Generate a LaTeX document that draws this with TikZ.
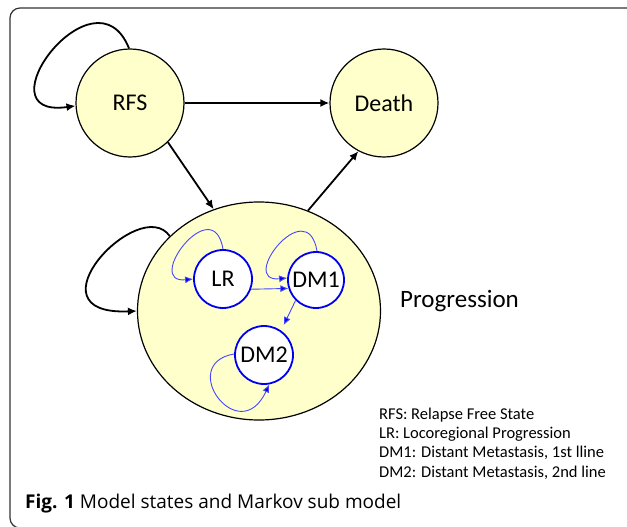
\documentclass[tikz,border=0pt]{standalone}
\usepackage{fontspec}
\setmainfont{Carlito}
\newfontfamily\capfont{Open Sans}
\usepackage{tikz}
\usetikzlibrary{shapes.geometric, arrows.meta}

\definecolor{statefill}{HTML}{FFFFCC}
\definecolor{subblue}{HTML}{0000F0}
\definecolor{loopblue}{HTML}{4646FF}
\definecolor{framegray}{HTML}{333333}

\tikzset{
	mstate/.style = {circle, draw, fill = statefill, line width = 1.2pt, inner sep = 0, minimum size = 108pt, font = \fontsize{24}{28}\selectfont},
	substate/.style = {circle, draw = subblue, fill = white, line width = 1.8pt, inner sep = 0, minimum size = 58pt, font = \fontsize{24}{28}\selectfont},
	move/.style = {line width = 1.8pt, -{Latex[length = 9pt, width = 8pt]}},
	submove/.style = {draw = loopblue, line width = 0.9pt, -{Latex[length = 8pt, width = 7pt, fill = subblue]}},
	keyline/.style = {anchor = base west, inner sep = 0, font = \fontsize{16.5}{19}\selectfont}
}

\begin{document}
\begin{tikzpicture}[x = 1pt, y = -1pt]
	\useasboundingbox (0, 0) rectangle (627, 527);
	\draw[framegray, line width = 1.2pt, rounded corners = 10pt] (10, 8) rectangle (660, 528);

	% main states
	\node[mstate] (rfs) at (130, 103) {RFS};
	\node[mstate] (death) at (384, 103) {Death};
	\node[mstate, ellipse, minimum width = 243pt, minimum height = 218pt] (prog) at (259, 311) {};
	\node[anchor = base west, inner sep = 0, font = \fontsize{25}{30}\selectfont] (progtext) at (400, 307) {Progression};

	\draw[move] (rfs.91) .. controls +(-34, -85) and +(-98, 14) .. (rfs.183);
	\draw[move] (rfs) -- (death);
	\draw[move] (rfs.-46) -- (prog.114);
	\draw[move] (prog.64) -- (death.-118);
	\draw[move] (prog.140) .. controls +(-30, -43) and +(-113, 5) .. (prog.180);

	% sub model
	\node[substate] (lr) at (223, 279) {LR};
	\node[substate, minimum size = 56pt] (dm1) at (316, 280) {DM1};
	\node[substate] (dm2) at (264, 355) {DM2};

	\draw[submove] (lr.90) .. controls +(-10, -59) and +(-50, 5) .. (lr.180);
	\draw[submove] (dm1.88) .. controls +(-10, -59) and +(-50, 5) .. (dm1.176);
	\draw[submove] (lr.-20) -- (dm1.-163);
	\draw[submove, shorten > = 6pt] (dm1.-135) -- (dm2.55);
	\draw[submove] (dm2.178) .. controls +(-58, 10) and +(-30, 65) .. (dm2.-80);

	% key
	\node[keyline] (keyrfs) at (379, 419) {RFS: Relapse Free State};
	\node[keyline] (keylr) at (379, 438.3) {LR: Locoregional Progression};
	\node[keyline] (keydma) at (379, 457.6) {DM1: Distant Metastasis, 1st lline};
	\node[keyline] (keydmb) at (379, 477) {DM2: Distant Metastasis, 2nd line};

	\node[anchor = base west, inner sep = 0, font = \capfont\fontsize{19}{22}\selectfont] (caption) at (25, 508) {\textbf{Fig. 1} Model states and Markov sub model};
\end{tikzpicture}
\end{document}
